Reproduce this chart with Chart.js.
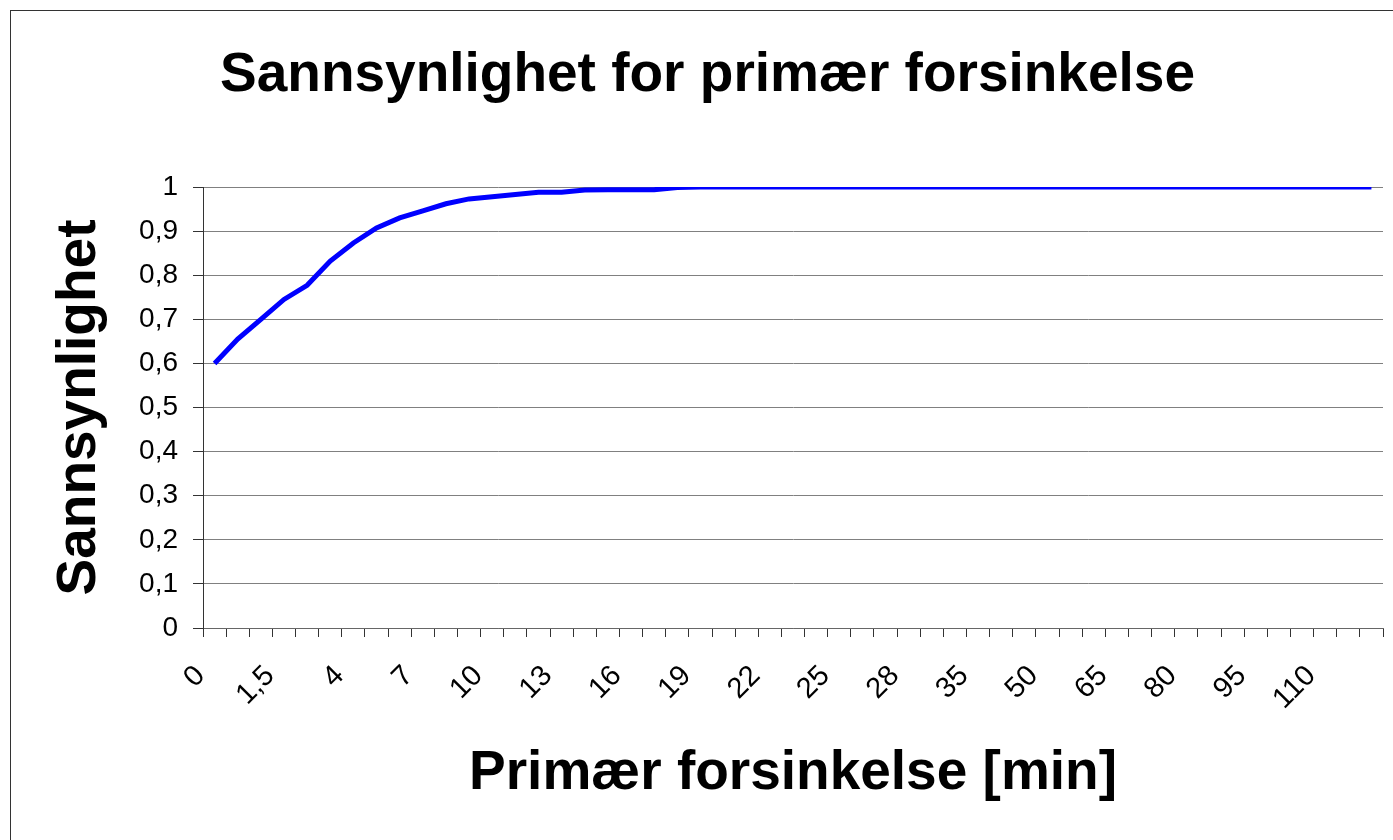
<!DOCTYPE html>
<html>
<head>
<meta charset="utf-8">
<script src="https://cdn.jsdelivr.net/npm/chart.js@4"></script>
<style>
html,body{margin:0;padding:0;background:#fff;}
#wrap{width:1393px;height:840px;position:relative;}
</style>
</head>
<body>
<div id="wrap"><canvas id="c" width="1393" height="840"></canvas></div>
<script>
const categories = ['0','0,5','1','1,5','2','3','4','5','6','7','8','9','10','11','12','13','14','15','16','17','18','19','20','21','22','23','24','25','26','27','28','29','30','35','40','45','50','55','60','65','70','75','80','85','90','95','100','105','110','115','120'];
const probability = [0.60,0.655,0.70,0.745,0.777,0.832,0.873,0.907,0.93,0.946,0.962,0.973,0.978,0.983,0.988,0.988,0.993,0.994,0.994,0.994,0.999,1,1,1,1,1,1,1,1,1,1,1,1,1,1,1,1,1,1,1,1,1,1,1,1,1,1,1,1,1,1];
const yTicks = [0,0.1,0.2,0.3,0.4,0.5,0.6,0.7,0.8,0.9,1];
const titleText = 'Sannsynlighet for primær forsinkelse';
const xTitle = 'Primær forsinkelse [min]';
const yTitle = 'Sannsynlighet';

const FONT = "'Liberation Sans', Arial, sans-serif";

const frame = {
  id: 'frame',
  beforeDraw(chart) {
    const ctx = chart.ctx;
    ctx.save();
    ctx.fillStyle = '#fff';
    ctx.fillRect(0, 0, chart.width, chart.height);
    ctx.strokeStyle = '#333';
    ctx.lineWidth = 1;
    ctx.strokeRect(10.5, 10.5, 1500, 1000);
    ctx.restore();
  }
};

new Chart(document.getElementById('c'), {
  type: 'line',
  data: {
    labels: categories,
    datasets: [{
      data: probability,
      borderColor: '#0000FF',
      borderWidth: 5,
      pointRadius: 0,
      tension: 0,
      fill: false
    }]
  },
  options: {
    responsive: false,
    animation: false,
    layout: { padding: { left: 32, right: 10, top: 0, bottom: 0 } },
    plugins: {
      legend: { display: false },
      tooltip: { enabled: false },
      title: {
        display: true,
        text: titleText,
        color: '#000',
        font: { family: FONT, size: 55, weight: 'bold', lineHeight: 1.2 },
        padding: { top: 43, bottom: 78 }
      }
    },
    scales: {
      x: {
        type: 'category',
        offset: true,
        grid: { display: true, drawOnChartArea: false, drawTicks: true, tickLength: 9, offset: true, color: '#333' },
        border: { display: true, color: '#666', width: 1 },
        ticks: {
          autoSkip: false,
          minRotation: 45,
          maxRotation: 45,
          padding: 22,
          labelOffset: -14,
          color: '#000',
          font: { family: FONT, size: 29 },
          callback: function(v, i) { return i % 3 === 0 ? categories[i] : ''; }
        },
        title: {
          display: true,
          text: xTitle,
          color: '#000',
          font: { family: FONT, size: 55, weight: 'bold', lineHeight: 1.2 },
          padding: { top: 0, bottom: 33 }
        },
        afterFit(scale) { scale.height = 212; scale.paddingRight = 0; scale.paddingLeft = 0; }
      },
      y: {
        min: 0,
        max: 1,
        afterBuildTicks(scale) { scale.ticks = yTicks.map(v => ({ value: v })); },
        grid: { color: '#808080', tickColor: '#333', tickLength: 10, drawTicks: true },
        border: { display: true, color: '#333', width: 1 },
        ticks: {
          padding: 15,
          color: '#000',
          font: { family: FONT, size: 28 },
          callback: function(v) { return String(Math.round(v * 10) / 10).replace('.', ','); }
        },
        title: {
          display: true,
          text: yTitle,
          color: '#000',
          font: { family: FONT, size: 55, weight: 'bold', lineHeight: 1.2 },
          padding: { top: 15, bottom: 0 }
        },
        afterFit(scale) { scale.width = 171; }
      }
    }
  },
  plugins: [frame]
});
</script>
</body>
</html>
